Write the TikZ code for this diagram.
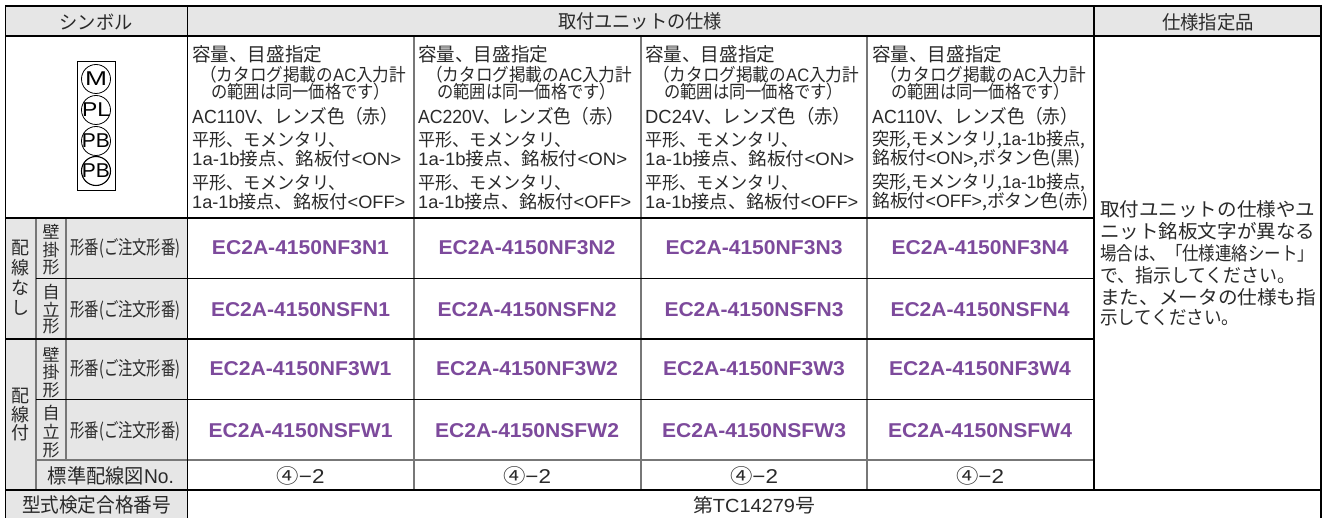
\documentclass[tikz,border=0pt]{standalone}
\usepackage{fontspec}
\usepackage{graphicx}
\setmainfont{Noto Sans CJK JP}
\newfontfamily\latf{Liberation Sans}
\newcommand\lat[1]{{\latf #1}}
\newcommand\fitw[2]{\resizebox{#1pt}{\height}{#2}}
\definecolor{hdr}{HTML}{E6E6E6}
\definecolor{ink}{HTML}{2A2A2A}
\definecolor{pur}{HTML}{7D4A9C}
\definecolor{gl}{HTML}{777777}
\tikzset{
 tx/.style={inner sep=0pt,anchor=west,text=ink,font=\fontsize{19}{19}\selectfont},
 cmp/.style={inner sep=0pt,anchor=west,text=ink,font=\fontsize{18}{18}\selectfont},
 ctx/.style={inner sep=0pt,anchor=center,text=ink,font=\fontsize{19}{19}\selectfont},
 lbl/.style={inner sep=0pt,anchor=center,text=ink,font=\fontsize{20}{20}\selectfont},
 vch/.style={inner sep=0pt,anchor=center,text=ink,font=\fontsize{18}{18}\selectfont},
 vsm/.style={inner sep=0pt,anchor=center,text=ink,font=\fontsize{17}{17}\selectfont},
 pn/.style={inner sep=0pt,anchor=center,text=pur,font=\latf\bfseries\fontsize{20}{20}\selectfont},
 sym/.style={circle,draw=black,line width=.8pt,minimum size=29pt,inner sep=0pt,text=black,font=\latf\fontsize{20}{20}\selectfont},
 thickl/.style={line width=1.8pt,black},
 thinl/.style={line width=.9pt,black},
 greyl/.style={line width=1.1pt,gl}
}
\begin{document}
\begin{tikzpicture}[x=1pt,y=-1pt]
\useasboundingbox (0,0) rectangle (1323,518);
\fill[white] (0,0) rectangle (1323,518);
% grey fills
\fill[hdr] (5.5,6) rectangle (1321,36);
\fill[hdr] (5.5,218) rectangle (187.5,490);
\fill[hdr] (5.5,490) rectangle (187.5,518);
% thin and grey rules
\draw[greyl] (36,218) -- (36,490) (66,218) -- (66,460) (36,460) -- (1094,460);
\foreach \x in {414,641,867} \draw[greyl] (\x,36) -- (\x,490);
\draw[thinl] (36,278) -- (1094,278) (36,399) -- (1094,399);
% heavy rules
\draw[thickl] (5.5,6) -- (1321,6) (5.5,36) -- (1321,36) (5.5,218) -- (1094,218) (5.5,339) -- (1094,339) (5.5,490) -- (1321,490);
\draw[thickl] (5.5,5) -- (5.5,518) (187.5,6) -- (187.5,518) (1094,6) -- (1094,490) (1321,5) -- (1321,518);
% headers
\node[ctx] (h1) at (96,22) {\fitw{73}{シンボル}};
\node[ctx] (h2) at (640,21) {\fitw{164}{取付ユニットの仕様}};
\node[ctx] (h3) at (1208,22) {\fitw{92}{仕様指定品}};
% symbols
\draw[line width=.9pt] (77.5,61) rectangle (115.5,190);
\node[sym] (sm) at (96,79) {\fitw{22}{M}};
\node[sym] (spl) at (96,110) {\hspace*{-6pt}\fitw{28}{PL}\hspace*{-6pt}};
\node[sym] (spa) at (96,141) {\hspace*{-6pt}\fitw{28}{PB}\hspace*{-6pt}};
\node[sym,line width=1.1pt] (spb) at (96,171) {\hspace*{-6pt}\fitw{28}{PB}\hspace*{-6pt}};
% spec text, columns 1-3
\foreach \i/\X/\V in {1/192/\lat{AC110V}、レンズ色（赤）,2/418/\lat{AC220V}、レンズ色（赤）,3/645/\lat{DC24V}、レンズ色（赤）}{
 \node[tx] (a\i) at (\X,54) {\fitw{130}{容量、目盛指定}};
 \node[cmp] (b\i) at (\X+8,75) {\fitw{206}{（カタログ掲載の\lat{AC}入力計}};
 \node[cmp] (c\i) at (\X+19,92) {\fitw{179}{の範囲は同一価格です）}};
 \node[tx] (d\i) at (\X,116) {\fitw{206}{\V}};
 \node[cmp] (e\i) at (\X,140) {\fitw{153}{平形、モメンタリ、}};
 \node[cmp] (f\i) at (\X,159) {\fitw{209}{\lat{1a-1b}接点、銘板付\lat{<ON>}}};
 \node[cmp] (g\i) at (\X,183) {\fitw{153}{平形、モメンタリ、}};
 \node[cmp] (k\i) at (\X,202) {\fitw{213}{\lat{1a-1b}接点、銘板付\lat{<OFF>}}};
}
% spec text, column 4
\node[tx] (a4) at (872,54) {\fitw{130}{容量、目盛指定}};
\node[cmp] (b4) at (880,75) {\fitw{206}{（カタログ掲載の\lat{AC}入力計}};
\node[cmp] (c4) at (891,92) {\fitw{179}{の範囲は同一価格です）}};
\node[tx] (d4) at (872,116) {\fitw{206}{\lat{AC110V}、レンズ色（赤）}};
\node[cmp] (e4) at (872,140) {\fitw{213}{突形,モメンタリ,\lat{1a-1b}接点,}};
\node[cmp] (f4) at (872,159) {\fitw{208}{銘板付\lat{<ON>},ボタン色(黒)}};
\node[cmp] (g4) at (872,183) {\fitw{213}{突形,モメンタリ,\lat{1a-1b}接点,}};
\node[cmp] (k4) at (872,202) {\fitw{216}{銘板付\lat{<OFF>},ボタン色(赤)}};
% vertical labels
\foreach \n/\c/\x/\y in {p1/配/20/248,p2/線/20/268,p3/な/20/288,p4/し/20/308,q1/配/20/396,q2/線/20/415,q3/付/20/433}
  \node[vch] (\n) at (\x,\y) {\c};
\foreach \n/\c/\y in {r1/壁/232,r2/掛/250,r3/形/267,s1/自/292,s2/立/310,s3/形/326,t1/壁/355,t2/掛/372,t3/形/390,u1/自/413,u2/立/432,u3/形/450}
  \node[vsm] (\n) at (51,\y) {\c};
% model rows
\foreach \n/\y in {1/248,2/310,3/369,4/431}
  \node[ctx] (m\n) at (125.5,\y) {\fitw{110}{形番(ご注文形番)}};
\foreach \i/\cx in {1/300.5,2/527,3/754,4/980}{
  \node[pn] (na\i) at (\cx,248) {\fitw{177}{EC2A-4150NF3N\i}};
  \node[pn] (nb\i) at (\cx,310) {\fitw{179}{EC2A-4150NSFN\i}};
  \node[pn] (nc\i) at (\cx,369) {\fitw{182}{EC2A-4150NF3W\i}};
  \node[pn] (nd\i) at (\cx,431) {\fitw{184}{EC2A-4150NSFW\i}};
  \node[lbl] (w\i) at (\cx,476) {\fitw{48}{④\lat{−2}}};
}
\node[lbl] (std) at (111,476) {\fitw{126}{標準配線図\lat{No.}}};
\node[lbl] (typ) at (96.5,505) {\fitw{149}{型式検定合格番号}};
\node[ctx] (tc) at (754,505) {\fitw{122}{第\lat{TC14279}号}};
% note
\node[tx] (n1) at (1100,209) {\fitw{215}{取付ユニットの仕様やユ}};
\node[tx] (n2) at (1100,231) {\fitw{215}{ニット銘板文字が異なる}};
\node[tx] (n3) at (1100,253) {\fitw{214}{場合は、「仕様連絡シート」}};
\node[tx] (n4) at (1100,275) {\fitw{195}{で、指示してください。}};
\node[tx] (n5) at (1100,297) {\fitw{216}{また、メータの仕様も指}};
\node[tx] (n6) at (1100,318) {\fitw{139}{示してください。}};
\end{tikzpicture}
\end{document}
